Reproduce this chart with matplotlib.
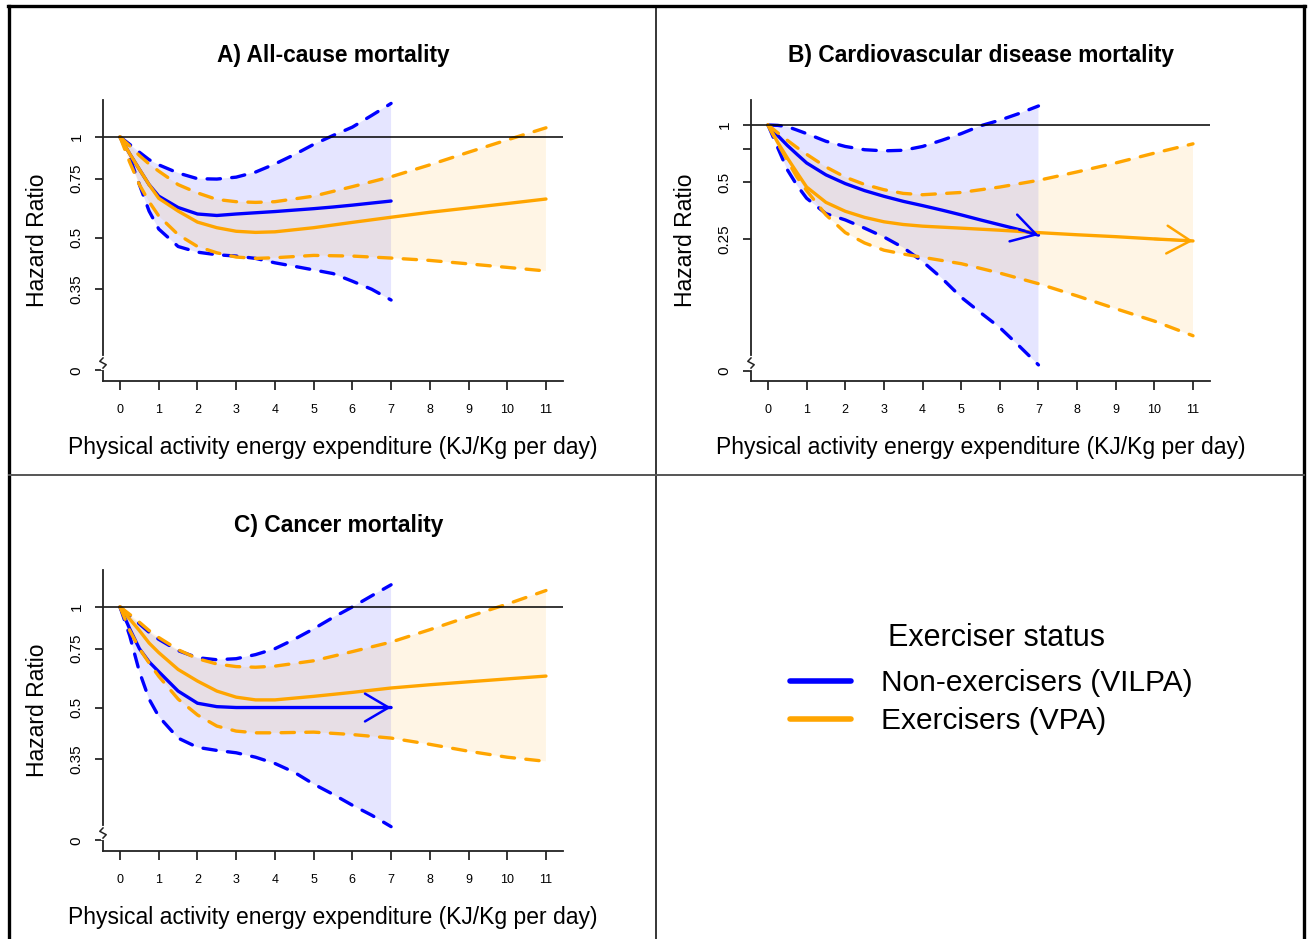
import matplotlib
matplotlib.use("Agg")
import matplotlib.pyplot as plt
from matplotlib.lines import Line2D
import numpy as np

plt.rcParams['font.family'] = ['Liberation Sans', 'DejaVu Sans']

BLUE = '#0000FF'
ORANGE = '#FFA500'

# x grids (PAEE, KJ/Kg per day)
x_blue = [0, 0.25, 0.5, 0.75, 1, 1.5, 2, 2.5, 3, 3.5, 4, 4.5, 5, 5.5, 6, 6.5, 7]
x_orange = [0, 0.25, 0.5, 0.75, 1, 1.5, 2, 2.5, 3, 3.5, 4, 5, 6, 7, 8, 9, 10, 11]

# A) All-cause mortality
a_blue_hr = [1, 0.89, 0.80, 0.72, 0.665, 0.615, 0.588, 0.582, 0.588, 0.593, 0.598, 0.604, 0.61, 0.617, 0.625, 0.634, 0.643]
a_blue_hi = [1, 0.95, 0.90, 0.855, 0.825, 0.78, 0.75, 0.748, 0.758, 0.785, 0.83, 0.885, 0.95, 1.01, 1.07, 1.16, 1.26]
a_blue_lo = [1, 0.87, 0.72, 0.60, 0.53, 0.47, 0.452, 0.444, 0.44, 0.433, 0.42, 0.41, 0.40, 0.39, 0.37, 0.35, 0.325]
a_orange_hr = [1, 0.89, 0.80, 0.72, 0.655, 0.60, 0.556, 0.535, 0.522, 0.518, 0.52, 0.535, 0.555, 0.575, 0.595, 0.613, 0.632, 0.652]
a_orange_hi = [1, 0.94, 0.88, 0.83, 0.79, 0.72, 0.68, 0.65, 0.64, 0.637, 0.64, 0.665, 0.71, 0.76, 0.825, 0.90, 0.98, 1.065]
a_orange_lo = [1, 0.84, 0.72, 0.64, 0.58, 0.51, 0.47, 0.45, 0.437, 0.433, 0.435, 0.442, 0.44, 0.434, 0.427, 0.417, 0.407, 0.397]

# B) Cardiovascular disease mortality
b_blue_hr = [1, 0.88, 0.78, 0.70, 0.63, 0.545, 0.49, 0.45, 0.42, 0.395, 0.375, 0.355, 0.335, 0.315, 0.297, 0.28, 0.262]
b_blue_hi = [1, 0.995, 0.98, 0.94, 0.90, 0.82, 0.77, 0.74, 0.73, 0.735, 0.77, 0.83, 0.90, 0.99, 1.06, 1.15, 1.26]
b_blue_lo = [1, 0.76, 0.58, 0.48, 0.41, 0.34, 0.315, 0.285, 0.256, 0.225, 0.19, 0.155, 0.123, 0.102, 0.085, 0.068, 0.054]
b_orange_hr = [1, 0.81, 0.67, 0.56, 0.47, 0.39, 0.35, 0.325, 0.308, 0.298, 0.292, 0.285, 0.278, 0.27, 0.263, 0.257, 0.25, 0.244]
b_orange_hi = [1, 0.91, 0.83, 0.76, 0.70, 0.60, 0.53, 0.485, 0.455, 0.435, 0.428, 0.44, 0.47, 0.51, 0.565, 0.63, 0.71, 0.795]
b_orange_lo = [1, 0.80, 0.65, 0.53, 0.45, 0.335, 0.27, 0.238, 0.218, 0.208, 0.20, 0.185, 0.165, 0.145, 0.125, 0.107, 0.092, 0.077]

# C) Cancer mortality
c_blue_hr = [1, 0.86, 0.75, 0.685, 0.64, 0.56, 0.515, 0.503, 0.5, 0.5, 0.5, 0.5, 0.5, 0.5, 0.5, 0.5, 0.5]
c_blue_hi = [1, 0.94, 0.89, 0.84, 0.80, 0.74, 0.705, 0.695, 0.70, 0.72, 0.75, 0.80, 0.86, 0.93, 1.0, 1.08, 1.165]
c_blue_lo = [1, 0.82, 0.64, 0.53, 0.47, 0.405, 0.38, 0.372, 0.366, 0.355, 0.34, 0.32, 0.295, 0.275, 0.255, 0.238, 0.22]
c_orange_hr = [1, 0.92, 0.85, 0.78, 0.73, 0.65, 0.60, 0.56, 0.537, 0.527, 0.527, 0.54, 0.555, 0.572, 0.585, 0.597, 0.609, 0.621]
c_orange_hi = [1, 0.95, 0.90, 0.85, 0.81, 0.745, 0.70, 0.675, 0.663, 0.66, 0.665, 0.69, 0.735, 0.785, 0.855, 0.935, 1.02, 1.12]
c_orange_lo = [1, 0.85, 0.75, 0.68, 0.62, 0.53, 0.475, 0.44, 0.425, 0.42, 0.42, 0.422, 0.415, 0.405, 0.388, 0.37, 0.355, 0.345]

x_ticks = list(range(12))
ticks_ac = [0.2, 0.35, 0.5, 0.75, 1]
labels_ac = ['0', '0.35', '0.5', '0.75', '1']
ticks_b = [0.05, 0.25, 0.5, 0.75, 1]
labels_b = ['0', '0.25', '0.5', '', '1']

W, H = 1309, 939
fig = plt.figure(figsize=(W / 100, H / 100), dpi=100)


def px_axes(left, top, right, bottom):
    return fig.add_axes([left / W, 1 - bottom / H, (right - left) / W, (bottom - top) / H])


def band(ax, x, hr, lo, hi, color, arrow):
    x = np.asarray(x)
    ax.fill(np.r_[x, x[::-1]], np.r_[hi, lo[::-1]], color=color, alpha=0.1, lw=0)
    for y in (lo, hi):
        ax.plot(x, y, color=color, lw=2.4, ls=(0, (4.0, 3.4)),
                dash_capstyle='round', solid_capstyle='round')
    ax.plot(x, hr, color=color, lw=2.4, solid_capstyle='round')
    if arrow:
        ax.annotate('', xy=(x[-1], hr[-1]), xytext=(x[-2], hr[-2]),
                    arrowprops=dict(arrowstyle='->,head_length=0.85,head_width=0.5',
                                    color=color, lw=1.8, shrinkA=0, shrinkB=0,
                                    mutation_scale=20))


def panel(ax, title, blue, orange, ylim, yticks, ylabels, arrows, title_dx=0.0):
    band(ax, x_blue, *blue, BLUE, arrows[0])
    band(ax, x_orange, *orange, ORANGE, arrows[1])
    ax.axhline(1, color='black', lw=1.1)
    ax.set_yscale('log')
    ax.set_ylim(*ylim)
    ax.set_xlim(-0.44, 11.44)
    ax.minorticks_off()
    ax.set_yticks(yticks)
    ax.set_yticklabels(ylabels, rotation=90, va='center', fontsize=11)
    ax.set_xticks(x_ticks)
    ax.set_xticklabels([str(t) for t in x_ticks], fontsize=9)
    ax.tick_params(axis='y', length=6, width=1.1, pad=8)
    ax.tick_params(axis='x', length=6.5, width=1.1, pad=10)
    for s in ('top', 'right'):
        ax.spines[s].set_visible(False)
    for s in ('left', 'bottom'):
        ax.spines[s].set_linewidth(1.3)
        ax.spines[s].set_color('#222222')
    # axis break on the y axis
    ax.plot([0, 0], [0.046, 0.082], transform=ax.transAxes, color='white', lw=3,
            clip_on=False, zorder=5)
    ax.plot([0.0, 0.007, -0.007, 0.0], [0.046, 0.058, 0.070, 0.082],
            transform=ax.transAxes, color='#222222', lw=1.1, clip_on=False, zorder=6)
    ax.text(0.5 + title_dx, 1.135, title, transform=ax.transAxes, ha='center',
            va='baseline', fontsize=16.4, fontweight='bold')
    ax.text(-0.142, 0.5, 'Hazard Ratio', transform=ax.transAxes, ha='center',
            va='center', rotation=90, fontsize=16.5)
    ax.text(0.5, -0.235, 'Physical activity energy expenditure (KJ/Kg per day)',
            transform=ax.transAxes, ha='center', va='center', fontsize=16.5)


axA = px_axes(103, 100, 563, 381)
axB = px_axes(751, 100, 1210, 381)
axC = px_axes(103, 570, 563, 851)

panel(axA, 'A) All-cause mortality',
      (a_blue_hr, a_blue_lo, a_blue_hi), (a_orange_hr, a_orange_lo, a_orange_hi),
      (0.186, 1.29), ticks_ac, labels_ac, (False, False))
panel(axB, 'B) Cardiovascular disease mortality',
      (b_blue_hr, b_blue_lo, b_blue_hi), (b_orange_hr, b_orange_lo, b_orange_hi),
      (0.0444, 1.355), ticks_b, labels_b, (True, True))
panel(axC, 'C) Cancer mortality',
      (c_blue_hr, c_blue_lo, c_blue_hi), (c_orange_hr, c_orange_lo, c_orange_hi),
      (0.186, 1.29), ticks_ac, labels_ac, (True, False), title_dx=0.012)

# legend
handles = [Line2D([], [], color=BLUE, lw=4, solid_capstyle='round'),
           Line2D([], [], color=ORANGE, lw=4, solid_capstyle='round')]
fig.legend(handles, ['Non-exercisers (VILPA)', 'Exercisers (VPA)'],
           loc='upper left', bbox_to_anchor=(790 / W, 1 - 669 / H),
           frameon=False, fontsize=21.5, handlelength=2.05, handletextpad=1.0,
           labelspacing=0.34, borderpad=0, borderaxespad=0)
fig.text(996 / W, 1 - 646 / H, 'Exerciser status', ha='center', va='baseline', fontsize=22)

# panel frames
fig.add_artist(Line2D([8.5 / W, 8.5 / W], [0, 1 - 6 / H], color='black', lw=2.4))
fig.add_artist(Line2D([1303.5 / W, 1303.5 / W], [0, 1 - 6 / H], color='black', lw=2.4))
fig.add_artist(Line2D([7.5 / W, 1304.5 / W], [1 - 6 / H, 1 - 6 / H], color='black', lw=2.4))
fig.add_artist(Line2D([656 / W, 656 / W], [0, 1 - 6 / H], color='black', lw=1.1))
fig.add_artist(Line2D([8.5 / W, 1303.5 / W], [1 - 475 / H, 1 - 475 / H], color='#555555', lw=1.4))

fig.savefig('out.png', dpi=100)
